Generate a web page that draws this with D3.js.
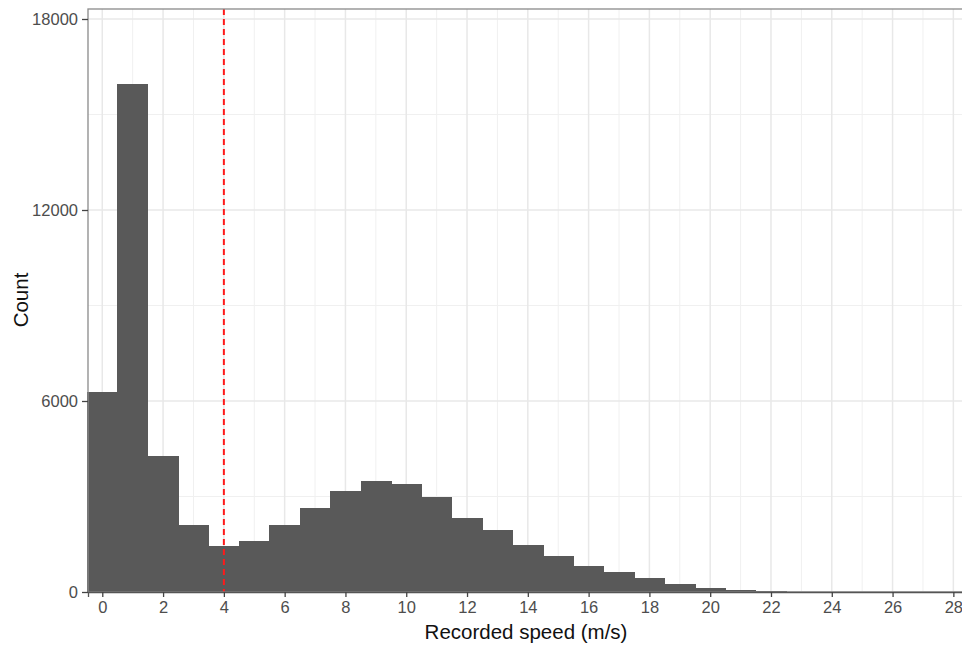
<!DOCTYPE html>
<html>
<head>
<meta charset="utf-8">
<script src="https://cdn.jsdelivr.net/npm/d3@7"></script>
<style>
  html, body { margin: 0; padding: 0; background: #fff; }
  svg { display: block; }
</style>
</head>
<body>
<script>
// Histogram bins: centers (m/s), each bin is 1 m/s wide
const binCenters = [0,1,2,3,4,5,6,7,8,9,10,11,12,13,14,15,16,17,18,19,20,21,22,23,24,25,26,27,28];
const counts = [6290,15950,4260,2100,1435,1610,2100,2650,3185,3490,3390,2985,2335,1940,1475,1140,820,630,440,250,140,75,40,15,6,3,2,1,1];
const xTicks = [0,2,4,6,8,10,12,14,16,18,20,22,24,26,28];
const yTicks = [0,6000,12000,18000];
const thresholdSpeed = [4];

(function () {
const W = 962, H = 648;
const svg = d3.select("body").append("svg").attr("width", W).attr("height", H);

const pL = 88, pR = 964, pT = 9, pB = 592;
const x = d3.scaleLinear().domain([-0.47, 28.35]).range([pL, pR]);
const y = d3.scaleLinear().domain([0, 18314]).range([pB, pT]);

const g = svg.append("g");

g.append("rect").attr("x", pL).attr("y", pT).attr("width", pR - pL).attr("height", pB - pT).attr("fill", "#fff");

// minor grid
const xMinor = d3.range(1, 29, 2);
const yMinor = [3000, 9000, 15000];
g.selectAll(".vmin").data(xMinor).enter().append("line")
  .attr("x1", d => x(d)).attr("x2", d => x(d)).attr("y1", pT).attr("y2", pB)
  .attr("stroke", "#f0f0f0").attr("stroke-width", 1);
g.selectAll(".hmin").data(yMinor).enter().append("line")
  .attr("y1", d => y(d)).attr("y2", d => y(d)).attr("x1", pL).attr("x2", pR)
  .attr("stroke", "#f0f0f0").attr("stroke-width", 1);
// major grid
g.selectAll(".vmaj").data(xTicks).enter().append("line")
  .attr("x1", d => x(d)).attr("x2", d => x(d)).attr("y1", pT).attr("y2", pB)
  .attr("stroke", "#e8e8e8").attr("stroke-width", 1.5);
g.selectAll(".hmaj").data(yTicks).enter().append("line")
  .attr("y1", d => y(d)).attr("y2", d => y(d)).attr("x1", pL).attr("x2", pR)
  .attr("stroke", "#e8e8e8").attr("stroke-width", 1.5);

// bars
g.selectAll(".bar").data(binCenters.map((c, i) => ({c, v: counts[i]}))).enter().append("rect")
  .attr("x", d => x(d.c - 0.5))
  .attr("width", d => x(d.c + 0.5) - x(d.c - 0.5) + 0.6)
  .attr("y", d => y(d.v))
  .attr("height", d => y(0) - y(d.v))
  .attr("fill", "#595959")
  .attr("shape-rendering", "crispEdges");

// threshold line
g.selectAll(".vline").data(thresholdSpeed).enter().append("line")
  .attr("x1", d => x(d)).attr("x2", d => x(d)).attr("y1", pT).attr("y2", pB)
  .attr("stroke", "#ff1a1a").attr("stroke-width", 2).attr("stroke-dasharray", "6,4");

// panel border
g.append("rect").attr("x", pL).attr("y", pT).attr("width", pR - pL).attr("height", pB - pT)
  .attr("fill", "none").attr("stroke", "#8a8a8a").attr("stroke-width", 1.3);

// axes
const xAxis = d3.axisBottom(x).tickValues(xTicks).tickSize(5).tickPadding(4).tickFormat(d3.format("d"));
const yAxis = d3.axisLeft(y).tickValues(yTicks).tickSize(6).tickPadding(4).tickFormat(d3.format("d"));

const gx = svg.append("g").attr("transform", `translate(0,${pB})`).call(xAxis);
const gy = svg.append("g").attr("transform", `translate(${pL},0)`).call(yAxis);
[gx, gy].forEach(a => {
  a.select(".domain").attr("stroke", "#555").attr("stroke-width", 1.3);
  a.selectAll(".tick line").attr("stroke", "#444").attr("stroke-width", 1.3);
  a.selectAll(".tick text").attr("fill", "#4d4d4d").style("font-family", "Liberation Sans, Arial, sans-serif").style("font-size", "16.5px");
});
gy.select(".domain").remove();

// titles
svg.append("text").attr("x", 526).attr("y", 639).attr("text-anchor", "middle")
  .style("font-family", "Liberation Sans, Arial, sans-serif").style("font-size", "20.5px").attr("fill", "#111")
  .text("Recorded speed (m/s)");
svg.append("text").attr("transform", "translate(28,300) rotate(-90)").attr("text-anchor", "middle")
  .style("font-family", "Liberation Sans, Arial, sans-serif").style("font-size", "20.5px").attr("fill", "#111")
  .text("Count");
})();
</script>
</body>
</html>
